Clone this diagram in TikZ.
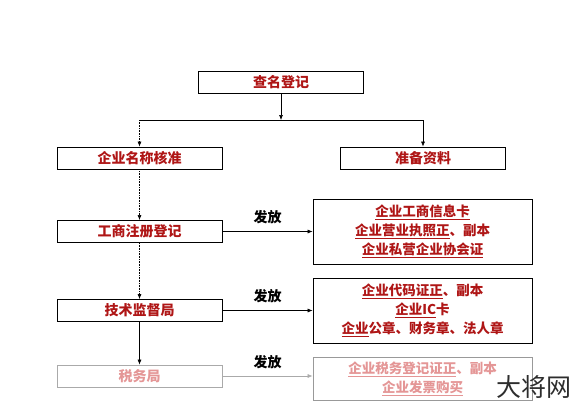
\documentclass[tikz,border=0pt]{standalone}
\usepackage{fontspec}
\setmainfont{Noto Sans CJK SC}
\usetikzlibrary{arrows.meta, positioning, calc}
\definecolor{boxred}{RGB}{175, 22, 22}
\definecolor{fadered}{RGB}{228, 150, 150}
\definecolor{fadegray}{RGB}{170, 170, 170}
\definecolor{markgray}{RGB}{45, 45, 45}

\tikzset{
  stepbox/.style={draw, thick, minimum width=165pt, minimum height=22pt, inner sep=0pt,
    font=\bfseries\fontsize{14}{15}\selectfont, text=boxred},
  docbox/.style={draw, thick, minimum width=219pt, inner sep=2pt, align=center,
    font=\bfseries\fontsize{13.5}{19}\selectfont, text=boxred},
  flow/.style={semithick, -{Latex[length=5pt, width=4pt]}},
  issue/.style={font=\bfseries\fontsize{14}{15}\selectfont, midway, above=4pt},
}

\begin{document}
\begin{tikzpicture}[x=1pt, y=-1pt]
  \useasboundingbox (0, 0) rectangle (572, 407);

  % Name check
  \node[stepbox] (cm) at (281, 82) {查名登记};
  \coordinate (split) at (281, 120);

  % Two branches
  \node[stepbox] (mc) at (139.5, 158) {企业名称核准};
  \node[stepbox] (zl) at (423, 158) {准备资料};
  \draw[flow] (cm) -- (split);
  \draw[semithick] (split -| mc.north) -- (split -| zl.north);
  \draw[flow, densely dotted] (split -| mc.north) -- (mc.north);
  \draw[flow] (split -| zl.north) -- (zl.north);

  % Registration chain
  \node[stepbox] (zj) at (139.5, 231.5) {工商注册登记};
  \node[stepbox] (js) at (139.5, 310.5) {技术监督局};
  \node[stepbox, draw=fadegray, text=fadered] (sw) at (139.5, 376) {税务局};
  \draw[flow, densely dotted] (mc) -- (zj);
  \draw[flow, densely dotted] (zj) -- (js);
  \draw[flow] (js) -- (sw);

  % Documents issued
  \node[docbox, minimum height=65pt] (card1) at (422.5, 231.5)
    {\underline{企业工商信息卡}\\\underline{企业营业执照正}、副本\\\underline{企业私营企业协会证}};
  \node[docbox, minimum height=65pt] (card2) at (422.5, 310.5)
    {\underline{企业代码证正}、副本\\\underline{企业IC}卡\\\underline{企业}公章、财务章、法人章};
  \node[docbox, minimum height=43pt, draw=gray!80, text=fadered] (card3) at (422.5, 378.5)
    {\underline{企业税务登记证正}、副本\\\underline{企业发票购买}};

  \draw[flow] (zj.east) -- (zj.east -| card1.west) node[issue] {发放};
  \draw[flow] (js.east) -- (js.east -| card2.west) node[issue] {发放};
  \draw[flow, fadegray] (sw.east) -- (sw.east -| card3.west) node[issue, text=black] {发放};

  % Watermark
  \node[font=\fontsize{25}{25}\selectfont, text=markgray, anchor=west, inner sep=0pt] (mark) at (496, 387) {大将网};
\end{tikzpicture}
\end{document}
